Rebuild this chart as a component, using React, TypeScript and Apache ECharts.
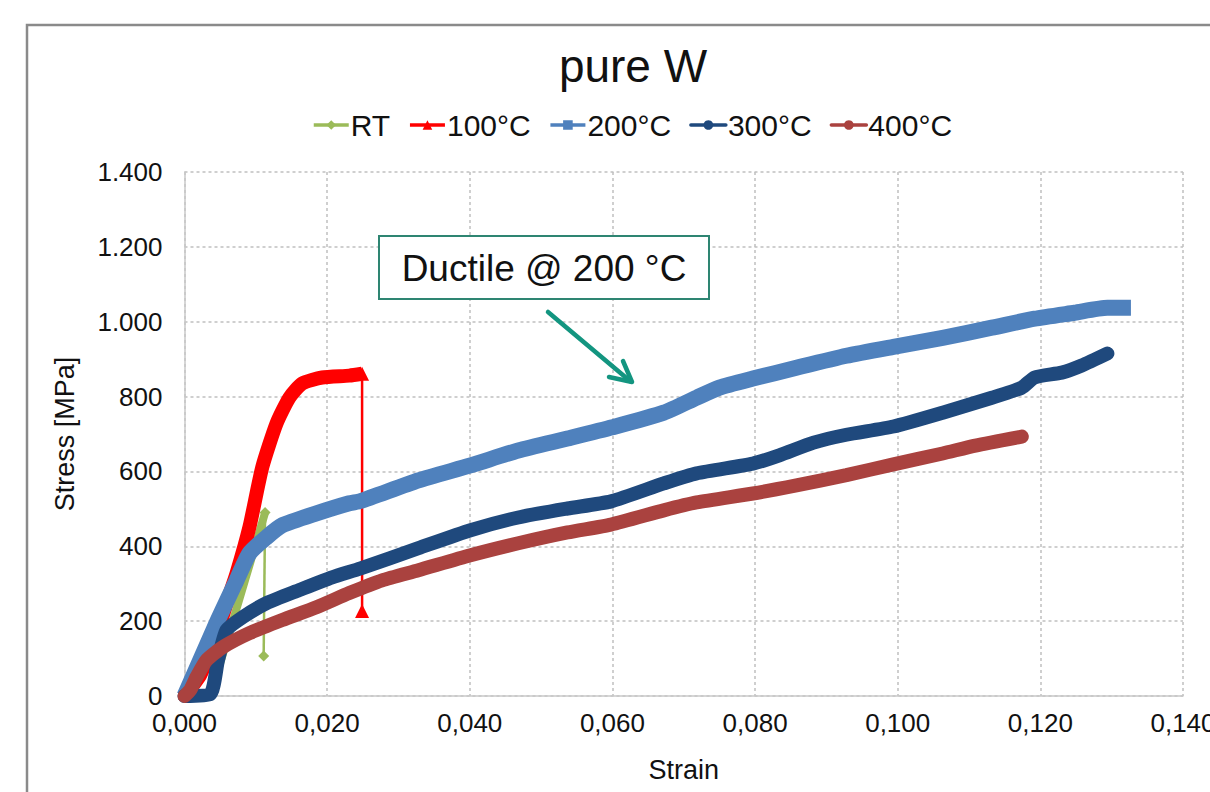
import React, { useEffect, useRef } from "react";
import * as echarts from "echarts";

// ---- data (strain, stress in MPa) ----
const rtRiseStrain = [0, 0.0036, 0.0064, 0.0092, 0.0113];
const rtRiseStress = [0, 0, 176, 355, 490];
const rtDropStrain = [0.0113, 0.0111];
const rtDropStress = [490, 107];

const t100RiseStrain = [0, 0.0022, 0.0043, 0.0059, 0.0073, 0.0091, 0.0109, 0.0129, 0.0147, 0.0165, 0.0193, 0.0231, 0.0249];
const t100RiseStress = [0, 56, 149, 248, 328, 451, 611, 728, 797, 835, 851, 856, 861];
const t100DropStrain = [0.0249, 0.0249];
const t100DropStress = [861, 227];

const t200Strain = [0, 0.0045, 0.0073, 0.0091, 0.0115, 0.0137, 0.0185, 0.0231, 0.0247, 0.0328, 0.0401, 0.0468, 0.0537, 0.06, 0.0672, 0.0718, 0.075, 0.0797, 0.0858, 0.0928, 0.0994, 0.1063, 0.1132, 0.1192, 0.1248, 0.1294, 0.1327];
const t200Stress = [0, 195, 309, 381, 424, 456, 488, 515, 521, 576, 616, 656, 688, 718, 757, 797, 824, 848, 877, 909, 933, 957, 984, 1008, 1024, 1037, 1037];

const t300Strain = [0, 0.0036, 0.0047, 0.0059, 0.0082, 0.0115, 0.0161, 0.0207, 0.0247, 0.0328, 0.0401, 0.0468, 0.0537, 0.0598, 0.0672, 0.0718, 0.0797, 0.0834, 0.0882, 0.0928, 0.0994, 0.1063, 0.1132, 0.1174, 0.1192, 0.123, 0.1258, 0.1294];
const t300Stress = [0, 5, 96, 176, 211, 248, 283, 317, 341, 395, 443, 477, 501, 520, 568, 595, 621, 643, 677, 698, 720, 757, 797, 824, 851, 864, 883, 915];

const t400Strain = [0, 0.0008, 0.0017, 0.0031, 0.0054, 0.0091, 0.0137, 0.0185, 0.0231, 0.0277, 0.0328, 0.0401, 0.0468, 0.0537, 0.0598, 0.0672, 0.0718, 0.0797, 0.0858, 0.0928, 0.0994, 0.1063, 0.1109, 0.1174];
const t400Stress = [0, 16, 51, 96, 131, 168, 203, 237, 275, 309, 336, 376, 408, 437, 458, 496, 517, 541, 563, 590, 619, 648, 669, 693];

const legendNames = ["RT", "100°C", "200°C", "300°C", "400°C"];
const colors = ["#9BBB59", "#FF0000", "#4F81BD", "#1F497D", "#AA423F"];

const zip = (xs: number[], ys: number[]) => xs.map((x, i) => [x, ys[i]]);

const FONT = "'Liberation Sans', Arial, sans-serif";

export default function App() {
  const ref = useRef<HTMLDivElement>(null);
  useEffect(() => {
    if (!ref.current) return;
    const chart = echarts.init(ref.current, null, { renderer: "svg" });
    const option: any = {
      animation: false,
      backgroundColor: "#ffffff",
      textStyle: { fontFamily: FONT, color: "#111" },
      title: {
        text: "pure W",
        left: 628,
        textAlign: "center",
        top: 38,
        textStyle: { fontSize: 46, fontWeight: "normal", color: "#111", fontFamily: FONT },
      },
      legend: {
        data: legendNames,
        left: 307,
        top: 105,
        itemWidth: 35,
        itemHeight: 12,
        itemGap: 18,
        lineStyle: { width: 3.5 },
        textStyle: { fontSize: 30, color: "#111", fontFamily: FONT, padding: [0, 0, 0, -3] },
      },
      grid: { left: 184.5, right: 27, top: 172, bottom: 96, containLabel: false, outerBoundsMode: "none" },
      xAxis: {
        type: "value",
        min: 0,
        max: 0.14,
        interval: 0.02,
        name: "Strain",
        nameLocation: "middle",
        nameGap: 60,
        nameTextStyle: { fontSize: 27, color: "#111", fontFamily: FONT },
        axisLine: { show: true, lineStyle: { color: "#c8c8c8", width: 1.5 } },
        axisTick: { show: false },
        axisLabel: {
          fontSize: 26,
          color: "#111",
          margin: 14,
          formatter: (v: number) => v.toFixed(3).replace(".", ","),
        },
        splitLine: { show: true, lineStyle: { color: "#c0c0c0", type: [3, 3], width: 1.5 } },
      },
      yAxis: {
        type: "value",
        min: 0,
        max: 1400,
        interval: 200,
        name: "Stress [MPa]",
        nameLocation: "middle",
        nameGap: 106,
        nameTextStyle: { fontSize: 27, color: "#111", fontFamily: FONT },
        axisLine: { show: true, lineStyle: { color: "#c8c8c8", width: 1.5 } },
        axisTick: { show: false },
        axisLabel: {
          fontSize: 26,
          color: "#111",
          margin: 22,
          formatter: (v: number) =>
            v >= 1000 ? Math.floor(v / 1000) + "." + String(v % 1000).padStart(3, "0") : String(v),
        },
        splitLine: { show: true, lineStyle: { color: "#c0c0c0", type: [3, 3], width: 1.5 } },
      },
      series: [
        {
          name: "RT", type: "line", data: zip(rtRiseStrain, rtRiseStress), clip: false,
          symbol: "diamond", showSymbol: false, color: colors[0],
          lineStyle: { width: 8, color: colors[0], join: "round" },
        },
        {
          name: "RT", type: "line", data: zip(rtDropStrain, rtDropStress), clip: false,
          symbol: "diamond", symbolSize: 11, showSymbol: true, color: colors[0],
          itemStyle: { color: colors[0] },
          lineStyle: { width: 2.5, color: colors[0] },
        },
        {
          name: "100°C", type: "line", data: zip(t100RiseStrain, t100RiseStress), clip: false,
          symbol: "triangle", showSymbol: false, smooth: 0.2, color: colors[1],
          lineStyle: { width: 14, color: colors[1], join: "round" },
        },
        {
          name: "100°C", type: "line", data: zip(t100DropStrain, t100DropStress), clip: false,
          symbol: "triangle", symbolSize: 14, showSymbol: true, color: colors[1],
          itemStyle: { color: colors[1] },
          lineStyle: { width: 2.5, color: colors[1] },
        },
        {
          name: "200°C", type: "line", data: zip(t200Strain, t200Stress), clip: false,
          symbol: "rect", showSymbol: false, smooth: 0.2, color: colors[2],
          lineStyle: { width: 16, color: colors[2], join: "round", cap: "butt" },
        },
        {
          name: "300°C", type: "line", data: zip(t300Strain, t300Stress), clip: false,
          symbol: "circle", showSymbol: false, smooth: 0.2, color: colors[3],
          lineStyle: { width: 14, color: colors[3], join: "round", cap: "round" },
        },
        {
          name: "400°C", type: "line", data: zip(t400Strain, t400Stress), clip: false,
          symbol: "circle", showSymbol: false, smooth: 0.2, color: colors[4],
          lineStyle: { width: 14, color: colors[4], join: "round", cap: "round" },
        },
      ],
      graphic: [
        {
          type: "rect", z: -10, silent: true,
          shape: { x: 27, y: 25, width: 1400, height: 1000 },
          style: { fill: "none", stroke: "#8a8a8a", lineWidth: 2.5 },
        },
        {
          type: "rect", z: 10,
          shape: { x: 379, y: 236, width: 330, height: 63 },
          style: { fill: "#ffffff", stroke: "#2E8572", lineWidth: 2 },
        },
        {
          type: "text", z: 11, x: 544, y: 268,
          style: {
            text: "Ductile @ 200 °C", fill: "#111", fontSize: 37, fontFamily: FONT,
            textAlign: "center", textVerticalAlign: "middle",
          },
        },
        {
          type: "line", z: 10,
          shape: { x1: 548, y1: 312, x2: 630, y2: 381 },
          style: { stroke: "#139580", lineWidth: 4.5, lineCap: "round" },
        },
        {
          type: "polyline", z: 10,
          shape: { points: [[609, 377], [632, 382], [623, 361]] },
          style: { stroke: "#139580", lineWidth: 4.5, fill: "none", lineCap: "round", lineJoin: "round" },
        },
      ],
    };
    chart.setOption(option);
    return () => chart.dispose();
  }, []);
  return (
    <div
      ref={ref}
      style={{ position: "fixed", left: 0, top: 0, width: 1210, height: 792, background: "#fff" }}
    />
  );
}
